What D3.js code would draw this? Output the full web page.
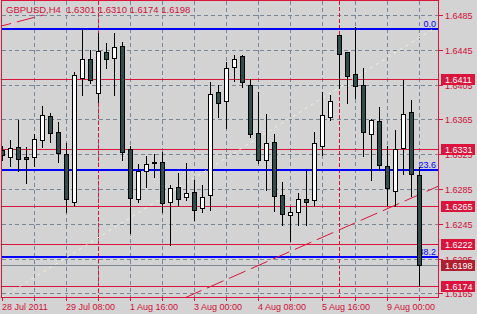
<!DOCTYPE html>
<html><head><meta charset="utf-8">
<script src="https://cdn.jsdelivr.net/npm/d3@7"></script>
<style>
html,body{margin:0;padding:0;background:#D3D3D3;}
svg{display:block;}
text{font-family:"Liberation Sans",Arial,sans-serif;}
line{shape-rendering:crispEdges;}
</style></head><body>
<svg id="c" width="477" height="314"></svg>
<script>
// ---------- data ----------
const symbol = "GBPUSD,H4";
const openP  = [1.6330,1.6322,1.6333,1.6322,1.6322,1.6341,1.6369,1.6350,1.6325,1.6270,1.6413,1.6435,1.6395,1.6442,1.6436,1.6449,1.6331,1.6274,1.6306,1.6316,1.6316,1.6270,1.6287,1.6276,1.6281,1.6263,1.6278,1.6396,1.6386,1.6425,1.6438,1.6405,1.6349,1.6318,1.6339,1.6278,1.6255,1.6258,1.6273,1.6272,1.6334,1.6368,1.6462,1.6442,1.6417,1.6405,1.6348,1.6363,1.6311,1.6283,1.6332,1.6373,1.6301];
const highP  = [1.6334,1.6341,1.6364,1.6333,1.6348,1.6380,1.6372,1.6362,1.6338,1.6419,1.6469,1.6445,1.6464,1.6453,1.6464,1.6454,1.6334,1.6314,1.6323,1.6325,1.6328,1.6290,1.6303,1.6315,1.6295,1.6290,1.6408,1.6405,1.6431,1.6439,1.6439,1.6411,1.6396,1.6371,1.6348,1.6293,1.6264,1.6280,1.6306,1.6350,1.6396,1.6393,1.6462,1.6443,1.6471,1.6424,1.6365,1.6379,1.6335,1.6353,1.6410,1.6387,1.6310];
const lowP   = [1.6318,1.6311,1.6306,1.6292,1.6311,1.6333,1.6339,1.6316,1.6258,1.6265,1.6393,1.6407,1.6385,1.6424,1.6393,1.6318,1.6235,1.6270,1.6287,1.6299,1.6259,1.6221,1.6265,1.6272,1.6249,1.6258,1.6261,1.6368,1.6355,1.6409,1.6402,1.6345,1.6315,1.6284,1.6260,1.6244,1.6225,1.6244,1.6244,1.6265,1.6324,1.6364,1.6401,1.6384,1.6390,1.6323,1.6295,1.6307,1.6267,1.6265,1.6302,1.6277,1.6174];
const closeP = [1.6324,1.6332,1.6319,1.6320,1.6342,1.6370,1.6349,1.6326,1.6273,1.6416,1.6434,1.6410,1.6444,1.6435,1.6448,1.6327,1.6275,1.6306,1.6314,1.6315,1.6269,1.6286,1.6274,1.6280,1.6261,1.6276,1.6394,1.6384,1.6424,1.6435,1.6408,1.6348,1.6318,1.6338,1.6277,1.6256,1.6258,1.6274,1.6270,1.6338,1.6370,1.6386,1.6440,1.6415,1.6403,1.6350,1.6364,1.6313,1.6286,1.6331,1.6371,1.6302,1.6198];
const timeLabelIdx = [0, 8, 16, 24, 32, 40, 48];
const timeLabels   = ["28 Jul 2011","29 Jul 08:00","1 Aug 16:00","3 Aug 00:00","4 Aug 08:00","5 Aug 16:00","9 Aug 00:00"];
const priceTicks   = [1.6165,1.6205,1.6245,1.6285,1.6325,1.6365,1.6405,1.6445,1.6485];
const levelLines   = [1.6411,1.6331,1.6265,1.6222,1.6174];
const bidPrice     = 1.6198;
const fibLabels    = ["0.0","23.6","38.2"];
const fibPrices    = [1.6469,1.6307,1.6207];
const separatorIdx = [12, 42];
const fibTrend     = [[0, 1.6160],[53.65, 1.6468]];
const channelLow   = [[22.86, 1.6160],[54.4, 1.6288]];
const channelHigh  = [[-1, 1.6470],[5.19, 1.6485]];

// ---------- styles ----------
const C_FG = "#DC143C", C_TXT = "#D01038", C_GRID = "#778899", C_BEAR = "#2F4F4F";
const svg = d3.select("#c");
const L = 1.5, T = 0.5, R = 438.5, B = 297.5;
const y = d3.scaleLinear().domain([1.6165, 1.6485]).range([293.4, 15]);
const x = d3.scaleLinear().domain([0, 52]).range([1.7, 418.7]);
const px = v => Math.round(v) + 0.5;
const n = openP.length;

svg.append("rect").attr("width",477).attr("height",314).attr("fill","#D3D3D3");
svg.append("defs").append("clipPath").attr("id","pc")
  .append("rect").attr("x",2).attr("y",1).attr("width",436).attr("height",296);
const g = svg.append("g").attr("clip-path","url(#pc)");

// grid
const vIdx = d3.range(4, n, 4);
g.selectAll("line.vg").data(vIdx).join("line").attr("class","vg")
  .attr("x1", d=>px(x(d))).attr("x2", d=>px(x(d))).attr("y1",T).attr("y2",B)
  .attr("stroke",C_GRID).attr("stroke-dasharray","4,3");
g.selectAll("line.hg").data(priceTicks).join("line").attr("class","hg")
  .attr("x1",L).attr("x2",R).attr("y1", d=>px(y(d))).attr("y2", d=>px(y(d)))
  .attr("stroke",C_GRID).attr("stroke-dasharray","4,3");
// separators
g.selectAll("line.sep").data(separatorIdx).join("line").attr("class","sep")
  .attr("x1", d=>px(x(d))).attr("x2", d=>px(x(d))).attr("y1",T).attr("y2",B)
  .attr("stroke",C_FG).attr("stroke-dasharray","4,2");
// level lines
g.selectAll("line.lv").data(levelLines).join("line").attr("class","lv")
  .attr("x1",L).attr("x2",R).attr("y1", d=>px(y(d))).attr("y2", d=>px(y(d)))
  .attr("stroke",C_FG);
// bid line
g.append("line").attr("class","bid").attr("x1",L).attr("x2",R)
  .attr("y1",px(y(bidPrice))).attr("y2",px(y(bidPrice)))
  .attr("stroke","#7F8A96");
// fib lines
g.selectAll("line.fb").data(fibPrices).join("line").attr("class","fb")
  .attr("x1",L).attr("x2",R-1).attr("y1", d=>Math.round(y(d))).attr("y2", d=>Math.round(y(d)))
  .attr("stroke","#0000FF").attr("stroke-width",2);
// diagonals
const line = d3.line().x(d=>x(d[0])).y(d=>y(d[1]));
g.append("path").attr("d",line(fibTrend)).attr("fill","none")
  .attr("stroke","#F5F2D8").attr("stroke-dasharray","3,4");
g.append("path").attr("d",line(channelLow)).attr("fill","none")
  .attr("stroke",C_FG).attr("stroke-dasharray","18,6");
g.append("path").attr("d",line(channelHigh)).attr("fill","none")
  .attr("stroke",C_FG).attr("stroke-dasharray","18,6");
// fib labels
g.selectAll("text.fl").data(fibLabels).join("text").attr("class","fl")
  .attr("x",436).attr("y",(d,i)=>Math.round(y(fibPrices[i]))-2.5)
  .attr("text-anchor","end").attr("font-size","9px").attr("fill","#0000FF").text(d=>d);

// candles
const idx = d3.range(n);
g.selectAll("line.wk").data(idx).join("line").attr("class","wk")
  .attr("x1", i=>Math.round(x(i))+0.5).attr("x2", i=>Math.round(x(i))+0.5)
  .attr("y1", i=>Math.round(y(highP[i]))).attr("y2", i=>Math.round(y(lowP[i]))+1)
  .attr("stroke","#000");
g.selectAll("rect.bd").data(idx).join("rect").attr("class","bd")
  .attr("x", i=>Math.round(x(i))-1.5).attr("width",4)
  .attr("y", i=>Math.round(y(Math.max(openP[i],closeP[i])))+0.5)
  .attr("height", i=>Math.max(1, Math.round(y(Math.min(openP[i],closeP[i])))-Math.round(y(Math.max(openP[i],closeP[i])))))
  .attr("fill", i=> closeP[i] >= openP[i] ? "#FFFFFF" : C_BEAR)
  .attr("stroke","#000");

// frame
svg.append("rect").attr("x",L).attr("y",T).attr("width",R-L).attr("height",B-T)
  .attr("fill","none").attr("stroke",C_FG);

// price axis
svg.selectAll("line.pt").data(priceTicks).join("line").attr("class","pt")
  .attr("x1",R).attr("x2",R+4).attr("y1", d=>px(y(d))).attr("y2", d=>px(y(d))).attr("stroke",C_FG);
svg.selectAll("text.ptl").data(priceTicks).join("text").attr("class","ptl")
  .attr("x",445).attr("y", d=>Math.round(y(d))+4)
  .attr("font-size","9px").attr("fill",C_TXT).text(d=>d.toFixed(4));
// time axis
svg.selectAll("line.tt").data([0].concat(vIdx)).join("line").attr("class","tt")
  .attr("x1", d=>px(x(d))).attr("x2", d=>px(x(d))).attr("y1",B).attr("y2",B+3).attr("stroke",C_FG);
svg.selectAll("text.ttl").data(timeLabels).join("text").attr("class","ttl")
  .attr("x",(d,i)=>Math.round(x(timeLabelIdx[i]))).attr("y",310)
  .attr("font-size","9px").attr("fill",C_TXT).text(d=>d);

// level label boxes
const boxes = levelLines.map(p=>({p, c:C_FG})).concat([{p:bidPrice, c:"#B01E30"}]);
const bg = svg.selectAll("g.lb").data(boxes).join("g").attr("class","lb");
bg.append("rect").attr("x",441).attr("y",d=>Math.round(y(d.p))-5).attr("width",34).attr("height",11).attr("fill",d=>d.c);
bg.append("text").attr("x",445).attr("y",d=>Math.round(y(d.p))+4)
  .attr("font-size","9px").attr("fill","#FFFFFF").text(d=>d.p.toFixed(4));

// header
const last = n-1;
svg.append("text").attr("x",6).attr("y",13).attr("font-size","9.5px").attr("fill",C_TXT)
  .style("white-space","pre")
  .text(symbol + "  " + [openP[last],highP[last],lowP[last],closeP[last]].map(v=>v.toFixed(4)).join(" "));
</script>
</body></html>
